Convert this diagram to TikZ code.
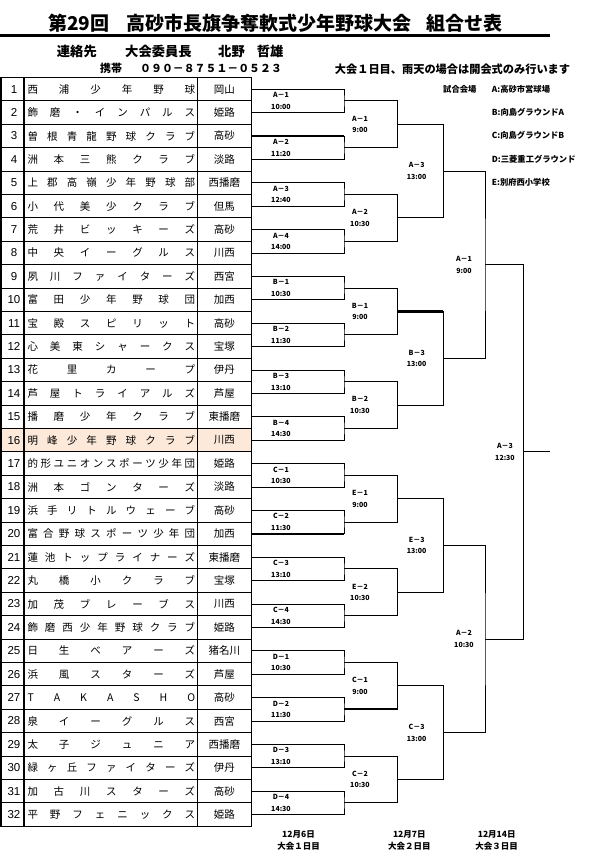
\documentclass[tikz,border=0pt]{standalone}
\usepackage{fontspec}
\setmainfont{Liberation Sans}
\newfontfamily\jp{Noto Sans CJK JP}
\definecolor{peach}{RGB}{253,233,217}
\tikzset{
  ttl/.style={anchor=west,inner sep=0pt,font=\jp\bfseries\fontsize{19}{21}\selectfont},
  hdr/.style={anchor=west,inner sep=0pt,font=\jp\bfseries\fontsize{13.3}{15}\selectfont},
  hdrs/.style={anchor=west,inner sep=0pt,font=\jp\bfseries\fontsize{11}{13}\selectfont},
  num/.style={inner sep=0pt,font=\fontsize{11.5}{13}\selectfont},
  team/.style={anchor=west,inner sep=0pt,font=\jp\fontsize{10.5}{12}\selectfont},
  loc/.style={inner sep=0pt,font=\jp\fontsize{10.5}{12}\selectfont},
  mlab/.style={inner sep=0pt,font=\jp\bfseries\fontsize{7}{8}\selectfont},
  leg/.style={anchor=west,inner sep=0pt,font=\jp\bfseries\fontsize{8.3}{10}\selectfont},
  dlab/.style={inner sep=0pt,font=\jp\bfseries\fontsize{8.5}{10}\selectfont},
  grid/.style={line width=1.1pt},
  br/.style={line width=0.9pt},
  win/.style={line width=2.3pt}
}
\begin{document}
\begin{tikzpicture}[x=1pt,y=-1pt]
\useasboundingbox (0,0) rectangle (596,855);
% header
\node[ttl] (ttl1) at (48,23.3) {第29回};
\node[ttl] (ttl2) at (126,23.3) {高砂市長旗争奪軟式少年野球大会};
\node[ttl] (ttl3) at (426,23.3) {組合せ表};
\draw[line width=2.5pt] (0,35.5) -- (550,35.5);
\node[hdr] (h1) at (56.7,51.7) {連絡先};
\node[hdr] (h2) at (125,51.7) {大会委員長};
\node[hdr] (h3) at (218,51.7) {北野};
\node[hdr] (h4) at (256.7,51.7) {哲雄};
\node[hdrs] (h5) at (100,68.5) {携帯};
\node[hdrs,font=\jp\bfseries\fontsize{10.9}{13}\selectfont] (h6) at (140,68.5) {０９０－８７５１－０５２３};
\node[hdrs,font=\jp\bfseries\fontsize{11.2}{13}\selectfont] (h7) at (334.7,69.5) {大会１日目、雨天の場合は開会式のみ行います};
% legend
\node[leg] (lg0) at (443,89) {試合会場};
\node[leg] (lgA) at (491.7,89) {A:高砂市営球場};
\node[leg] (lgB) at (491.7,112.3) {B:向島グラウンドA};
\node[leg] (lgC) at (491.7,135.7) {C:向島グラウンドB};
\node[leg] (lgD) at (491.7,159) {D:三菱重工グラウンド};
\node[leg] (lgE) at (491.7,182.3) {E:別府西小学校};
% table
\fill[peach] (1,{77.5+15*23.4}) rectangle (251.5,{77.5+16*23.4});
\foreach \r in {0,...,32} {\draw[grid] (1,{77.5+\r*23.4}) -- (251.5,{77.5+\r*23.4});}
\foreach \xx in {1,24,197.3,251.5} {\draw[grid] (\xx,77) -- (\xx,{77.5+32*23.4+0.5});}
\foreach \i/\nm/\lc in {
 1/西 浦 少 年 野 球/岡山,
 2/飾 磨 ・ イ ン パ ル ス/姫路,
 3/曽 根 青 龍 野 球 ク ラ ブ/高砂,
 4/洲 本 三 熊 ク ラ ブ/淡路,
 5/上 郡 高 嶺 少 年 野 球 部/西播磨,
 6/小 代 美 少 ク ラ ブ/但馬,
 7/荒 井 ビ ッ キ ー ズ/高砂,
 8/中 央 イ ー グ ル ス/川西,
 9/夙 川 フ ァ イ タ ー ズ/西宮,
 10/富 田 少 年 野 球 団/加西,
 11/宝 殿 ス ピ リ ッ ト/高砂,
 12/心 美 東 シ ャ ー ク ス/宝塚,
 13/花 里 カ ー プ/伊丹,
 14/芦 屋 ト ラ イ ア ル ズ/芦屋,
 15/播 磨 少 年 ク ラ ブ/東播磨,
 16/明 峰 少 年 野 球 ク ラ ブ/川西,
 17/的 形 ユ ニ オ ン ス ポ ー ツ 少 年 団/姫路,
 18/洲 本 ゴ ン タ ー ズ/淡路,
 19/浜 手 リ ト ル ウ ェ ー ブ/高砂,
 20/富 合 野 球 ス ポ ー ツ 少 年 団/加西,
 21/蓮 池 ト ッ プ ラ イ ナ ー ズ/東播磨,
 22/丸 橋 小 ク ラ ブ/宝塚,
 23/加 茂 ブ レ ー ブ ス/川西,
 24/飾 磨 西 少 年 野 球 ク ラ ブ/姫路,
 25/日 生 ベ ア ー ズ/猪名川,
 26/浜 風 ス タ ー ズ/芦屋,
 27/T A K A S H O/高砂,
 28/泉 イ ー グ ル ス/西宮,
 29/太 子 ジ ュ ニ ア/西播磨,
 30/緑 ヶ 丘 フ ァ イ タ ー ズ/伊丹,
 31/加 古 川 ス タ ー ズ/高砂,
 32/平 野 フ ェ ニ ッ ク ス/姫路} {
  \node[num] (k\i) at (14,{77.5+(\i-0.5)*23.4}) {\i};
  \node[team] (n\i) at (27.3,{77.5+(\i-0.5)*23.4}) {\makebox[167.7pt][s]{\nm}};
  \node[loc] (p\i) at (224.4,{77.5+(\i-0.5)*23.4}) {\lc};
  \coordinate (t\i) at (251.5,{77.5+(\i-0.5)*23.4});
}
% bracket coordinates
\foreach \j in {1,...,16} {\coordinate (a\j) at (344,{77.5+(2*\j-1)*23.4});}
\foreach \j in {1,...,8} {\coordinate (b\j) at (397.7,{77.5+(4*\j-2)*23.4});}
\foreach \j in {1,...,4} {\coordinate (c\j) at (443.3,{77.5+(8*\j-4)*23.4});}
\foreach \j in {1,...,2} {\coordinate (d\j) at (485,{77.5+(16*\j-8)*23.4});}
\coordinate (e1) at (523.3,{77.5+16*23.4});
\coordinate (champ) at (550,{77.5+16*23.4});
% bracket lines
\foreach \j [evaluate=\j as \p using int(2*\j-1), evaluate=\j as \q using int(2*\j)] in {1,...,16}
  {\draw[br] (t\p) -| (a\j) |- (t\q);}
\foreach \j [evaluate=\j as \p using int(2*\j-1), evaluate=\j as \q using int(2*\j)] in {1,...,8}
  {\draw[br] (a\p) -| (b\j) |- (a\q);}
\foreach \j [evaluate=\j as \p using int(2*\j-1), evaluate=\j as \q using int(2*\j)] in {1,...,4}
  {\draw[br] (b\p) -| (c\j) |- (b\q);}
\foreach \j [evaluate=\j as \p using int(2*\j-1), evaluate=\j as \q using int(2*\j)] in {1,...,2}
  {\draw[br] (c\p) -| (d\j) |- (c\q);}
\draw[br] (d1) -| (e1) |- (d2);
\draw[br] (e1) -- (champ);
% winner lines
\draw[win] (t3) -- (t3 -| a2);
\draw[win] (t20) -- (t20 -| a10);
\draw[win] (b3) -- (b3 -| c2);
\draw[win] (a14) -- (a14 -| b7);
% round labels
\foreach \j/\l/\tm in {1/A－1/10:00,2/A－2/11:20,3/A－3/12:40,4/A－4/14:00,
  5/B－1/10:30,6/B－2/11:30,7/B－3/13:10,8/B－4/14:30,
  9/C－1/10:30,10/C－2/11:30,11/C－3/13:10,12/C－4/14:30,
  13/D－1/10:30,14/D－2/11:30,15/D－3/13:10,16/D－4/14:30} {
  \node[mlab] (la\j) at (281,{77.5+(2*\j-1)*23.4-5.8}) {\l};
  \node[mlab] (lat\j) at (281,{77.5+(2*\j-1)*23.4+5.8}) {\tm};
}
\foreach \j/\l/\tm in {1/A－1/9:00,2/A－2/10:30,3/B－1/9:00,4/B－2/10:30,
  5/E－1/9:00,6/E－2/10:30,7/C－1/9:00,8/C－2/10:30} {
  \node[mlab] (lb\j) at (360,{77.5+(4*\j-2)*23.4-5.8}) {\l};
  \node[mlab] (lbt\j) at (360,{77.5+(4*\j-2)*23.4+5.8}) {\tm};
}
\foreach \j/\l/\tm in {1/A－3/13:00,2/B－3/13:00,3/E－3/13:00,4/C－3/13:00} {
  \node[mlab] (lc\j) at (416.7,{77.5+(8*\j-4)*23.4-5.8}) {\l};
  \node[mlab] (lct\j) at (416.7,{77.5+(8*\j-4)*23.4+5.8}) {\tm};
}
\foreach \j/\l/\tm in {1/A－1/9:00,2/A－2/10:30} {
  \node[mlab] (ld\j) at (464,{77.5+(16*\j-8)*23.4-5.8}) {\l};
  \node[mlab] (ldt\j) at (464,{77.5+(16*\j-8)*23.4+5.8}) {\tm};
}
\node[mlab] (le1) at (505,{77.5+16*23.4-5.8}) {A－3};
\node[mlab] (let1) at (505,{77.5+16*23.4+5.8}) {12:30};
% day labels
\node[dlab] (dy1) at (298.5,834) {12月6日};
\node[dlab] (dz1) at (298.5,846.7) {大会１日目};
\node[dlab] (dy2) at (409.3,834) {12月7日};
\node[dlab] (dz2) at (409.3,846.7) {大会２日目};
\node[dlab] (dy3) at (496.7,834) {12月14日};
\node[dlab] (dz3) at (496.7,846.7) {大会３日目};
\end{tikzpicture}
\end{document}
